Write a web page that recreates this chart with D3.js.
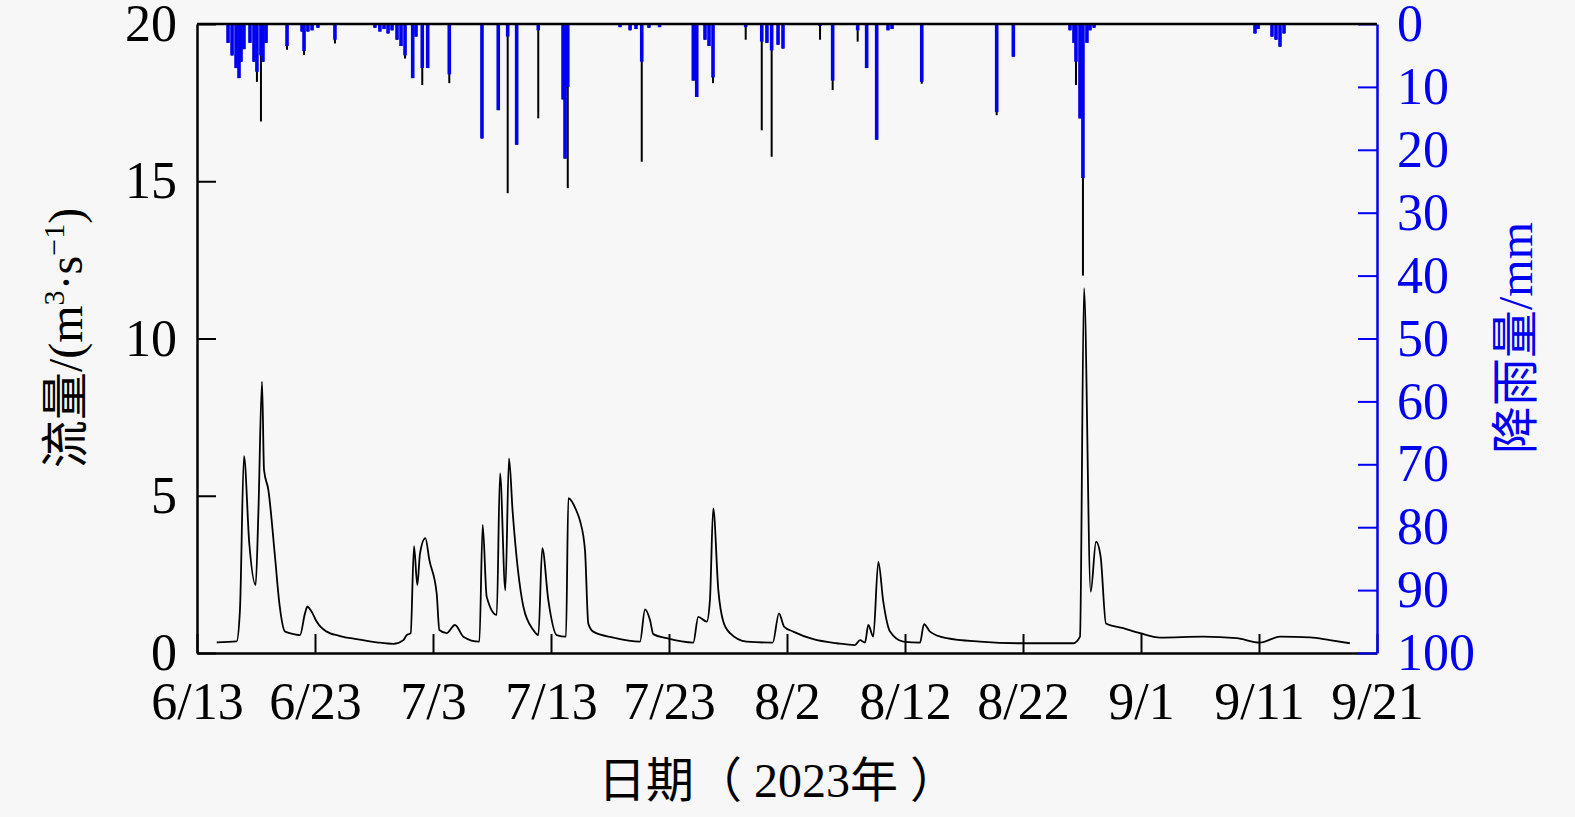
<!DOCTYPE html>
<html>
<head>
<meta charset="utf-8">
<script src="https://cdn.jsdelivr.net/npm/d3@7"></script>
<style>
  body { margin: 0; background: #f7f7f7; }
  svg { display: block; }
  text { font-family: "Liberation Serif", "Noto Sans CJK SC", serif; }
</style>
</head>
<body>
<div id="chart"></div>
<script>
// x axis: days since 6/13
const dateTicks = [0, 10, 20, 30, 40, 50, 60, 70, 80, 90, 100];
const dateLabels = ["6/13", "6/23", "7/3", "7/13", "7/23", "8/2", "8/12", "8/22", "9/1", "9/11", "9/21"];
const flowTicks = [0, 5, 10, 15, 20];
const rainTicks = [0, 10, 20, 30, 40, 50, 60, 70, 80, 90, 100];

// discharge (m3/s)
const flowDay = [1.67, 3.36, 3.64, 3.98, 4.43, 4.97, 5.2, 5.51, 5.68, 6.05,
  6.61, 6.98, 7.46, 7.88, 8.73, 9.15, 9.35, 9.72, 10.14, 10.5, 10.99,
  12.12, 13.53, 15.23, 16.64, 17.49, 17.77, 18.11, 18.39, 18.67, 18.9,
  19.35, 19.69, 20.31, 20.54, 21.16, 21.86, 22.57, 23.93, 24.21, 24.55,
  25.4, 25.68, 26.13, 26.44, 26.75, 27.66, 28.5, 28.93, 29.26, 29.77,
  30.48, 31.27, 31.47, 32.18, 32.46, 32.88, 33.16, 33.58, 35.28, 37.54,
  37.97, 38.39, 38.67, 39.8, 42.06, 42.48, 43.2, 43.47, 43.75, 44.18,
  44.6, 45.17, 46.58, 48.79, 49.32, 49.75, 50.53, 52.23, 54.21, 55.76, 56.19,
  56.61, 56.89, 57.31, 57.74, 58.16, 58.73, 59.86, 61.27, 61.61, 62.12,
  63.53, 66.36, 69.75, 74.26, 74.83, 75.17, 75.74, 76.19, 76.58, 77.03,
  78.5, 79.92, 81.61, 85.28, 88.1, 90.08, 91.78, 94.32, 96.0, 97.7];
const flowRate = [0.34, 0.37, 1.37, 6.26, 3.49, 2.16, 4.44, 8.63, 5.82, 5.18,
  3.06, 1.58, 0.68, 0.63, 0.57, 1.26, 1.47, 1.31, 1.0, 0.82, 0.68,
  0.54, 0.44, 0.34, 0.29, 0.41, 0.57, 0.63, 3.40, 2.16, 3.17,
  3.65, 2.96, 1.9, 0.73, 0.63, 0.89, 0.52, 0.36, 4.07, 1.79,
  1.21, 5.71, 2.0, 6.19, 4.49, 1.47, 0.73, 0.57, 3.33, 1.69,
  0.57, 0.52, 4.92, 4.5, 4.2, 3.27, 0.94, 0.68, 0.49, 0.36,
  1.39, 1.05, 0.6, 0.47, 0.33, 1.15, 1.0, 1.69, 4.6, 2.0,
  1.0, 0.63, 0.36, 0.33, 1.26, 0.84, 0.68, 0.44, 0.31, 0.25, 0.41,
  0.33, 0.89, 0.52, 2.9, 1.63, 0.68, 0.36, 0.33, 0.92, 0.68,
  0.47, 0.36, 0.31, 0.31, 0.52, 11.6, 1.95, 3.54, 3.06, 0.94,
  0.79, 0.63, 0.49, 0.52, 0.47, 0.33, 0.52, 0.5, 0.41, 0.31];

// rainfall (mm): blue bars and the thin dark peaks behind them
const rainDay = [2.63, 2.97, 3.31, 3.56, 3.73, 3.98, 4.49, 4.83, 5.08, 5.42,
  5.59, 5.85, 7.63, 8.9, 9.07, 9.4, 9.75, 10.25, 11.69, 15.08,
  15.5, 15.85, 16.19, 16.53, 16.95, 17.29, 17.63, 18.28, 18.56, 19.09,
  19.55, 21.38, 24.15, 25.53, 26.33, 27.09, 28.92, 31.02, 31.19, 31.42,
  35.85, 36.7, 37.2, 37.69, 38.3, 39.2, 42.06, 42.35, 43.05, 43.39,
  43.73, 46.5, 47.86, 48.3, 48.7, 49.24, 49.66, 52.8, 53.87, 55.99,
  56.75, 57.6, 58.56, 58.9, 61.42, 67.77, 69.18, 73.98, 74.32, 74.49,
  74.83, 75.08, 75.42, 75.68, 76.02, 89.66, 89.92, 91.1, 91.44, 91.78, 92.12];
const rainMm = [3, 5, 7, 8.6, 6, 4, 3, 6, 7.6, 5,
  6, 3, 3.5, 1.2, 4.3, 1.2, 1.0, 0.6, 2.5, 0.6,
  1.2, 0.8, 1.5, 1.0, 2.5, 3.5, 5, 8.6, 2, 7,
  7, 8, 18.2, 13.7, 2, 19.2, 1, 12, 21.4, 10,
  0.5, 1, 0.8, 6, 0.6, 0.5, 9, 11.6, 2.5, 3.5,
  8.5, 0.5, 2.8, 3, 4.2, 3.3, 3.9, 0.3, 9, 1,
  7, 18.4, 1, 0.8, 9.2, 14, 5.2, 1, 3, 6,
  15, 24.5, 3, 1, 0.6, 1.5, 0.8, 2, 2.5, 3.6, 1.5];
const rainPeak = [3, 5, 7, 8.6, 6, 4, 3, 6, 9.2, 15.5,
  6, 3, 4.1, 1.2, 4.9, 1.2, 1.0, 0.6, 3.1, 0.6,
  1.2, 0.8, 1.5, 1.0, 2.5, 3.5, 5.5, 8.6, 2, 9.7,
  7, 9.4, 18.2, 13.7, 26.9, 19.2, 15, 12, 21.4, 26.1,
  0.5, 1, 0.8, 21.9, 0.6, 0.5, 9, 11.6, 2.5, 3.5,
  9.4, 2.5, 16.9, 3, 21.1, 3.3, 3.9, 2.5, 10.5, 2.8,
  7, 18.4, 1, 0.8, 9.5, 14.5, 5.2, 1, 3, 9.7,
  15, 40, 3, 1, 0.6, 1.5, 0.8, 2, 2.5, 3.6, 1.5];

const W = 1575, H = 817;
const plotL = 197, plotR = 1377, plotT = 24, plotB = 653;
const blue = "#0000f0";

const svg = d3.select("#chart")
  .append("svg")
  .attr("width", W)
  .attr("height", H);

const x = d3.scaleLinear().domain([0, 100]).range([plotL, plotR]);
const yFlow = d3.scaleLinear().domain([0, 20]).range([plotB, plotT]);
const yRain = d3.scaleLinear().domain([0, 100]).range([plotT, plotB]);

// rainfall bars hang from the top
const rain = rainDay.map((d, i) => ({ day: d, mm: rainMm[i], peak: rainPeak[i] }));

svg.append("g")
  .selectAll("rect")
  .data(rain)
  .enter()
  .append("rect")
  .attr("x", d => x(d.day) - 1)
  .attr("y", yRain(0))
  .attr("width", 2)
  .attr("height", d => yRain(d.peak) - yRain(0))
  .attr("fill", "#000");

svg.append("g")
  .selectAll("rect")
  .data(rain)
  .enter()
  .append("rect")
  .attr("x", d => x(d.day) - 1.8)
  .attr("y", yRain(0))
  .attr("width", 3.6)
  .attr("height", d => yRain(d.mm) - yRain(0))
  .attr("fill", blue);

// discharge line
const flow = flowDay.map((d, i) => ({ day: d, q: flowRate[i] }));
svg.append("path")
  .datum(flow)
  .attr("fill", "none")
  .attr("stroke", "#000")
  .attr("stroke-width", 1.8)
  .attr("stroke-linejoin", "round")
  .attr("d", d3.line().curve(d3.curveMonotoneX).x(d => x(d.day)).y(d => yFlow(d.q)));

// axes
const xAxis = svg.append("g")
  .attr("transform", `translate(0,${plotB})`)
  .call(d3.axisBottom(x)
    .tickValues(dateTicks)
    .tickFormat((d, i) => dateLabels[i])
    .tickSizeInner(-19)
    .tickSizeOuter(0)
    .tickPadding(29));

const yAxis = svg.append("g")
  .attr("transform", `translate(${plotL},0)`)
  .call(d3.axisLeft(yFlow)
    .tickValues(flowTicks)
    .tickSizeInner(-19)
    .tickSizeOuter(0)
    .tickPadding(20));

const rAxis = svg.append("g")
  .attr("transform", `translate(${plotR},0)`)
  .call(d3.axisRight(yRain)
    .tickValues(rainTicks)
    .tickSizeInner(-19)
    .tickSizeOuter(0)
    .tickPadding(20));

[xAxis, yAxis, rAxis].forEach(g => {
  g.selectAll("text").attr("font-size", 52).attr("font-family", "Liberation Serif");
  g.selectAll("line").attr("stroke-width", 2);
  g.select(".domain").attr("stroke-width", 2.5);
});
rAxis.selectAll("line, path").attr("stroke", blue);
rAxis.selectAll("text").attr("fill", blue);
xAxis.selectAll("text").attr("fill", "#000");
yAxis.selectAll("text").attr("fill", "#000");

// top frame
svg.append("line")
  .attr("x1", plotL).attr("x2", plotR)
  .attr("y1", plotT).attr("y2", plotT)
  .attr("stroke", "#000")
  .attr("stroke-width", 2.5);

// titles
svg.append("text")
  .attr("x", 778)
  .attr("y", 797)
  .attr("text-anchor", "middle")
  .attr("font-size", 48)
  .attr("xml:space", "preserve")
  .style("white-space", "pre")
  .text("日期（ 2023年 ）");

const yTitle = svg.append("text")
  .attr("transform", `translate(82,338) rotate(-90)`)
  .attr("text-anchor", "middle")
  .attr("font-size", 48);
yTitle.append("tspan").text("流量/(m");
yTitle.append("tspan").attr("dy", -18).attr("font-size", 30).text("3");
yTitle.append("tspan").attr("dy", 18).text("·s");
yTitle.append("tspan").attr("dy", -18).attr("font-size", 30).text("−1");
yTitle.append("tspan").attr("dy", 18).text(")");

svg.append("text")
  .attr("transform", `translate(1532,338) rotate(-90)`)
  .attr("text-anchor", "middle")
  .attr("font-size", 48)
  .attr("fill", blue)
  .text("降雨量/mm");
</script>
</body>
</html>
